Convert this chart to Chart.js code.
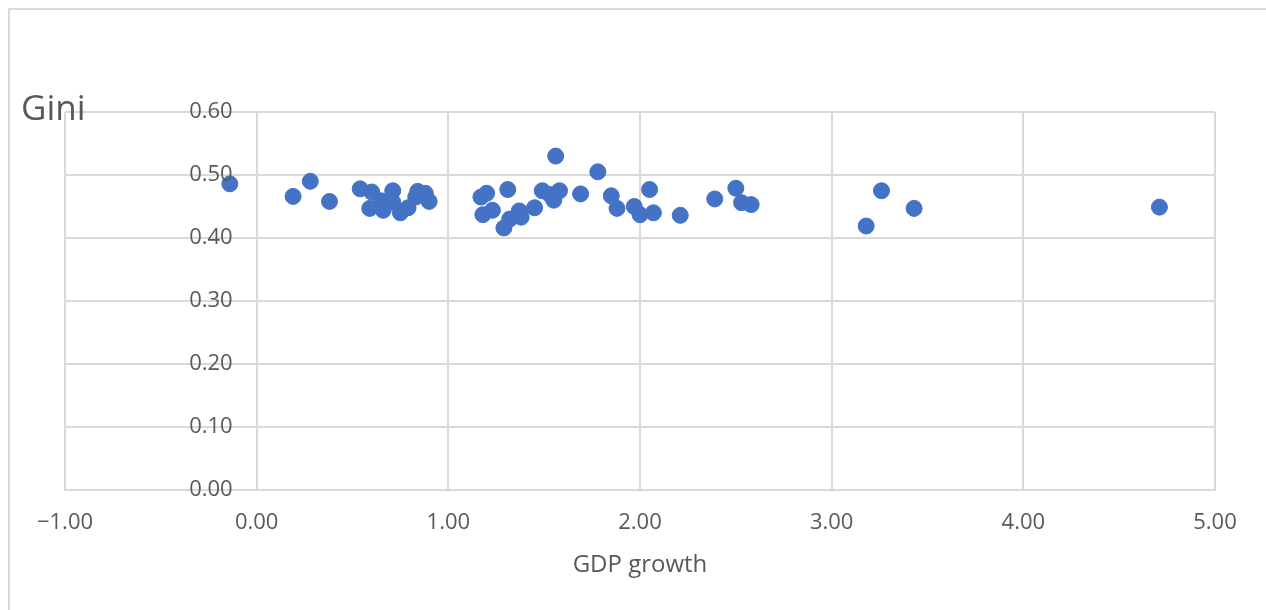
<!DOCTYPE html>
<html>
<head>
<meta charset="utf-8">
<script src="https://cdn.jsdelivr.net/npm/chart.js@4"></script>
<style>
  html, body { margin: 0; padding: 0; background: #fff; }
  #wrap { width: 1266px; height: 610px; }
</style>
</head>
<body>
<div id="wrap"><canvas id="giniChart" width="1266" height="610"></canvas></div>
<script>
// GDP growth (x) vs Gini coefficient (y)
const gdpGrowth = [
  -0.14, 0.19, 0.28, 0.38, 0.54, 0.60, 0.59, 0.65, 0.66, 0.71, 0.71, 0.75, 0.79,
  0.83, 0.84, 0.88, 0.90, 1.17, 1.20, 1.18, 1.23, 1.31, 1.29, 1.32, 1.37, 1.38,
  1.45, 1.49, 1.53, 1.55, 1.56, 1.58, 1.69, 1.78, 1.85, 1.88, 1.97, 2.00, 2.05,
  2.07, 2.21, 2.39, 2.50, 2.53, 2.58, 3.18, 3.26, 3.43, 4.71
];
const gini = [
  0.486, 0.466, 0.490, 0.458, 0.478, 0.473, 0.447, 0.459, 0.444, 0.475, 0.457, 0.440, 0.448,
  0.465, 0.474, 0.471, 0.458, 0.465, 0.471, 0.437, 0.444, 0.477, 0.416, 0.430, 0.443, 0.433,
  0.448, 0.475, 0.469, 0.460, 0.530, 0.475, 0.470, 0.505, 0.467, 0.447, 0.450, 0.437, 0.477,
  0.440, 0.436, 0.462, 0.479, 0.456, 0.453, 0.419, 0.475, 0.447, 0.449
];
const xTicks = [-1, 0, 1, 2, 3, 4, 5];
const yTicks = [0, 0.1, 0.2, 0.3, 0.4, 0.5, 0.6];

const points = gdpGrowth.map((x, i) => ({ x: x, y: gini[i] }));
const fontFamily = '"Open Sans", "Noto Sans", sans-serif';
const gridColor = '#d9d9d9';
const textColor = '#595959';

// frame around the chart, the y tick labels (the y axis sits at x = 0) and the axis titles
const decorations = {
  id: 'decorations',
  beforeDraw(chart) {
    const ctx = chart.ctx;
    ctx.save();
    ctx.strokeStyle = gridColor;
    ctx.lineWidth = 2;
    ctx.beginPath();
    ctx.moveTo(9, chart.height);
    ctx.lineTo(9, 9);
    ctx.lineTo(chart.width, 9);
    ctx.stroke();
    ctx.restore();
  },
  afterDraw(chart) {
    const ctx = chart.ctx;
    const area = chart.chartArea;
    const xs = chart.scales.x;
    const ys = chart.scales.y;
    ctx.save();
    ctx.fillStyle = textColor;

    // y tick labels, right aligned left of the axis line
    ctx.font = '22px ' + fontFamily;
    ctx.textAlign = 'right';
    ctx.textBaseline = 'middle';
    const axisX = xs.getPixelForValue(0);
    ys.ticks.forEach(t => {
      ctx.fillText(t.value.toFixed(2), axisX - 24, ys.getPixelForValue(t.value));
    });

    ctx.font = '35px ' + fontFamily;
    ctx.textAlign = 'left';
    ctx.textBaseline = 'alphabetic';
    ctx.fillText('Gini', 21, 120);

    ctx.font = '24px ' + fontFamily;
    ctx.textAlign = 'center';
    ctx.textBaseline = 'middle';
    ctx.fillText('GDP growth', (area.left + area.right) / 2, 565);
    ctx.restore();
  }
};

new Chart(document.getElementById('giniChart'), {
  type: 'scatter',
  data: {
    datasets: [{
      label: 'Gini',
      data: points,
      backgroundColor: '#4472C4',
      borderColor: '#4472C4',
      borderWidth: 1,
      pointRadius: 8,
      pointHoverRadius: 8
    }]
  },
  options: {
    responsive: false,
    animation: false,
    layout: { padding: { left: 65, right: 51, top: 112, bottom: 0 } },
    plugins: {
      legend: { display: false },
      tooltip: { enabled: false }
    },
    scales: {
      x: {
        type: 'linear',
        position: 'bottom',
        min: -1,
        max: 5,
        afterBuildTicks: s => { s.ticks = xTicks.map(v => ({ value: v })); },
        afterFit: s => { s.height = 120; },
        grid: { color: gridColor, lineWidth: 2, drawTicks: false },
        border: { color: gridColor, width: 2 },
        ticks: {
          padding: 20,
          color: textColor,
          font: { family: fontFamily, size: 22 },
          maxRotation: 0,
          callback: v => (v < 0 ? '\u2212' + Math.abs(v).toFixed(2) : v.toFixed(2))
        }
      },
      y: {
        type: 'linear',
        position: { x: 0 },
        min: 0,
        max: 0.6,
        afterBuildTicks: s => { s.ticks = yTicks.map(v => ({ value: v })); },
        grid: { color: gridColor, lineWidth: 2, drawTicks: false },
        border: { color: gridColor, width: 2 },
        ticks: { display: false }
      }
    }
  },
  plugins: [decorations]
});
</script>
</body>
</html>
